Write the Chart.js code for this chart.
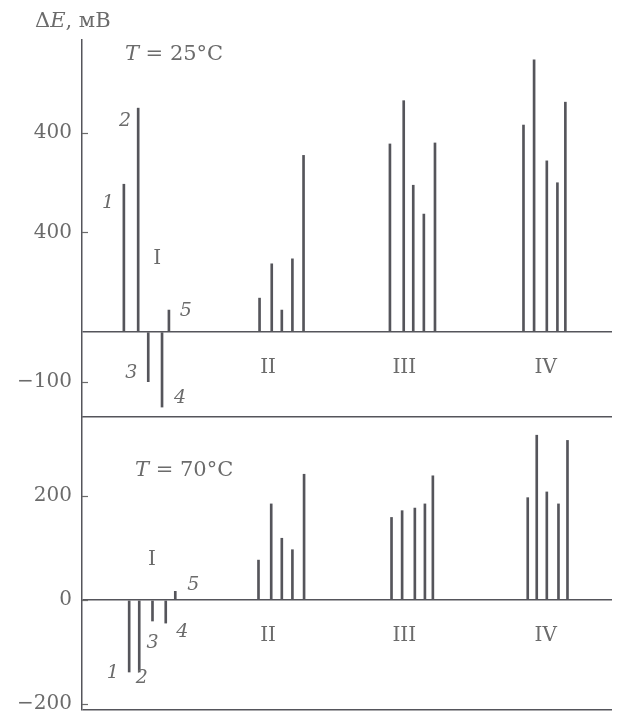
<!DOCTYPE html>
<html>
<head>
<meta charset="utf-8">
<script src="https://cdn.jsdelivr.net/npm/chart.js@4.4.1/dist/chart.umd.min.js"></script>
<style>
  body { margin: 0; background: #fff; }
  #wrap { position: relative; width: 618px; height: 712px; }
  canvas { position: absolute; left: 0; }
  #topChart { top: 0; }
  #bottomChart { top: 400px; }
</style>
</head>
<body>
<div id="wrap">
  <canvas id="topChart" width="618" height="420"></canvas>
  <canvas id="bottomChart" width="618" height="312"></canvas>
</div>
<script>
const groups = ['I', 'II', 'III', 'IV'];
const samples = ['1', '2', '3', '4', '5'];

// where each sample sits along the axis (0..100), one row per group
const xTop = [
    [7.9, 10.6, 12.5, 15.1, 16.4],
    [33.5, 35.8, 37.7, 39.7, 41.8],
    [58.1, 60.7, 62.5, 64.5, 66.6],
    [83.3, 85.3, 87.7, 89.7, 91.2]
];
const xBottom = [
    [8.9, 10.8, 13.3, 15.8, 17.6],
    [33.3, 35.7, 37.7, 39.7, 41.9],
    [58.4, 60.4, 62.8, 64.7, 66.2],
    [84.1, 85.8, 87.7, 89.9, 91.6]
];

// dE, mV at 25 C
const valTop = [
    [297, 450, -100, -151, 44],
    [68, 137, 44, 147, 355],
    [378, 465, 295, 237, 380],
    [416, 547, 344, 300, 462]
];
// dE, mV at 70 C
const valBottom = [
    [-138, -138, -40, -44, 17],
    [77, 185, 119, 97, 242],
    [159, 172, 177, 185, 239],
    [197, 317, 208, 185, 307]
];

const tickTop = [-100, 200, 400];
const tickTopLabels = ['\u2212100', '400', '400'];
const tickBottom = [-200, 0, 200];
const tickBottomLabels = ['\u2212200', '0', '200'];

const serif = '"DejaVu Serif", serif';
const textColor = '#6b6b6b';
const lineColor = '#55555b';

const notesPlugin = {
    id: 'notes',
    afterDraw(chart, args, opts) {
        const ctx = chart.ctx;
        const xs = chart.scales.x;
        const ys = chart.scales.y;
        const area = chart.chartArea;
        ctx.save();

        // small inner tick marks
        ctx.strokeStyle = textColor;
        ctx.lineWidth = 1.2;
        (opts.ticks || []).forEach(v => {
            const py = Math.round(ys.getPixelForValue(v)) + 0.5;
            ctx.beginPath();
            ctx.moveTo(area.left, py);
            ctx.lineTo(area.left + 6, py);
            ctx.stroke();
        });

        ctx.fillStyle = textColor;
        ctx.textBaseline = 'middle';
        (opts.items || []).forEach(item => {
            let px = xs.getPixelForValue(item.x);
            const py = ys.getPixelForValue(item.y);
            ctx.textAlign = item.parts ? 'left' : 'center';
            if (item.parts) {
                item.parts.forEach(p => {
                    ctx.font = (p[1] ? 'italic ' : '') + item.size + 'px ' + serif;
                    ctx.fillText(p[0], px, py);
                    px += ctx.measureText(p[0]).width;
                });
            } else {
                ctx.font = (item.italic ? 'italic ' : '') + item.size + 'px ' + serif;
                ctx.fillText(item.text, px, py);
            }
        });

        if (opts.title) {
            let px = area.left - 47;
            const py = area.top - 18;
            ctx.textAlign = 'left';
            opts.title.forEach(p => {
                ctx.font = (p[1] ? 'italic ' : '') + '21px ' + serif;
                ctx.fillText(p[0], px, py);
                px += ctx.measureText(p[0]).width;
            });
        }
        ctx.restore();
    }
};

function makePanel(canvasId, xs, vals, ticks, labels, yMin, yMax, padding, notes, title) {
    const points = [];
    groups.forEach((g, gi) => {
        samples.forEach((s, si) => {
            points.push({ x: xs[gi][si], y: vals[gi][si] });
        });
    });

    const ctx = document.getElementById(canvasId).getContext('2d');
    return new Chart(ctx, {
        type: 'bar',
        data: {
            datasets: [{
                data: points,
                backgroundColor: lineColor,
                barThickness: 2
            }]
        },
        plugins: [notesPlugin],
        options: {
            responsive: false,
            animation: false,
            layout: { padding: padding },
            scales: {
                x: {
                    type: 'linear',
                    min: 0,
                    max: 100,
                    offset: false,
                    display: false
                },
                y: {
                    min: yMin,
                    max: yMax,
                    afterBuildTicks: scale => {
                        const vals = Array.from(new Set([yMin, 0].concat(ticks))).sort((a, b) => a - b);
                        scale.ticks = vals.map(v => ({ value: v }));
                    },
                    afterFit: scale => {
                        scale.width = 82;
                        scale.paddingTop = 0;
                        scale.paddingBottom = 0;
                    },
                    ticks: {
                        autoSkip: false,
                        padding: 10,
                        color: textColor,
                        font: { family: serif, size: 20 },
                        callback: value => {
                            const i = ticks.indexOf(value);
                            return i < 0 ? '' : labels[i];
                        }
                    },
                    grid: {
                        drawTicks: false,
                        lineWidth: 1.5,
                        color: c => (c.tick && (c.tick.value === 0 || c.tick.value === yMin)) ? lineColor : 'rgba(0,0,0,0)'
                    },
                    border: { display: true, color: lineColor, width: 1.5 }
                }
            },
            plugins: {
                legend: { display: false },
                tooltip: { enabled: false },
                notes: { items: notes, ticks: ticks, title: title }
            }
        }
    });
}

const notesTop = [
    { parts: [['T', true], [' = 25\u00B0C', false]], x: 8.1, y: 557, size: 21 },
    { text: '1', italic: true, x: 4.9, y: 259, size: 19 },
    { text: '2', italic: true, x: 8.1, y: 424, size: 19 },
    { text: '3', italic: true, x: 9.3, y: -82, size: 19 },
    { text: '4', italic: true, x: 18.5, y: -133, size: 19 },
    { text: '5', italic: true, x: 19.6, y: 42, size: 19 },
    { text: 'I', x: 14.2, y: 147, size: 20 },
    { text: 'II', x: 35.1, y: -72, size: 20 },
    { text: 'III', x: 60.8, y: -72, size: 20 },
    { text: 'IV', x: 87.5, y: -72, size: 20 }
];
const notesBottom = [
    { parts: [['T', true], [' = 70\u00B0C', false]], x: 10.0, y: 250, size: 21 },
    { text: '1', italic: true, x: 5.8, y: -140, size: 19 },
    { text: '2', italic: true, x: 11.3, y: -150, size: 19 },
    { text: '3', italic: true, x: 13.3, y: -83, size: 19 },
    { text: '4', italic: true, x: 18.9, y: -62, size: 19 },
    { text: '5', italic: true, x: 21.0, y: 29, size: 19 },
    { text: 'I', x: 13.2, y: 77, size: 20 },
    { text: 'II', x: 35.1, y: -69, size: 20 },
    { text: 'III', x: 60.8, y: -69, size: 20 },
    { text: 'IV', x: 87.5, y: -69, size: 20 }
];

makePanel('topChart', xTop, valTop, tickTop, tickTopLabels, -171, 587,
    { left: 0, right: 6, top: 40, bottom: 3 }, notesTop,
    [['\u0394', false], ['E', true], [', \u043C\u0412', false]]);

makePanel('bottomChart', xBottom, valBottom, tickBottom, tickBottomLabels, -211, 352,
    { left: 0, right: 6, top: 17, bottom: 2 }, notesBottom, null);
</script>
</body>
</html>
